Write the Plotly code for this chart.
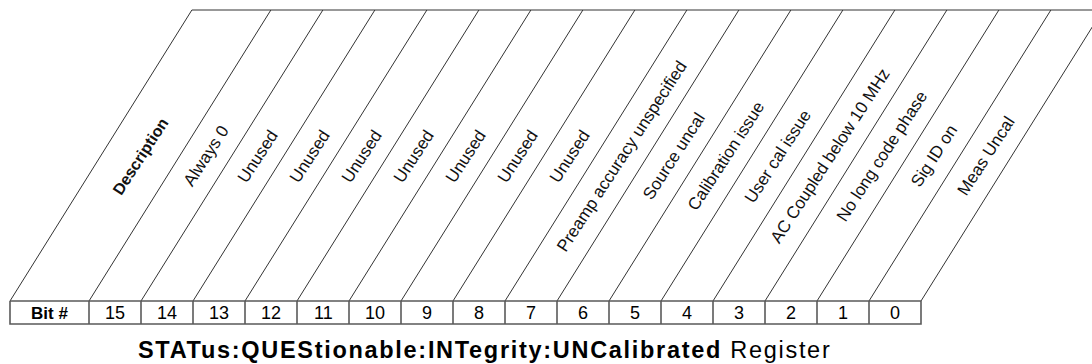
import plotly.graph_objects as go

# ---- data ----
header_bit = "Bit #"
header_desc = "Description"
bits = [15, 14, 13, 12, 11, 10, 9, 8, 7, 6, 5, 4, 3, 2, 1, 0]
descriptions = ["Always 0", "Unused", "Unused", "Unused", "Unused", "Unused",
                "Unused", "Unused", "Preamp accuracy unspecified", "Source uncal",
                "Calibration issue", "User cal issue", "AC Coupled below 10 MHz",
                "No long code phase", "Sig ID on", "Meas Uncal"]
title_bold = "STATus:QUEStionable:INTegrity:UNCalibrated"
title_plain = "Register"

# ---- geometry (pixel-like data units) ----
W, H = 1092, 364
x_left = 10.0
head_w = 79.0
col_w = 52.0
row_top, row_bot = 301.0, 324.0
top_y = 10.0
slope = 0.625  # dx per dy of slanted lines
label_y = 156.0
FONT = "Arial, 'Liberation Sans', sans-serif"

bounds = [x_left, x_left + head_w] + [x_left + head_w + col_w * (k + 1) for k in range(len(bits))]
x_right = bounds[-1]
shift_top = slope * (row_top - top_y)

fig = go.Figure()

# slanted lines + top line
sx, sy = [], []
for xb in bounds:
    sx += [xb, xb + shift_top, None]
    sy += [row_top, top_y, None]
sx += [bounds[0] + shift_top, W + 50, None]
sy += [top_y, top_y, None]
fig.add_trace(go.Scatter(x=sx, y=sy, mode="lines", line=dict(color="#333333", width=1),
                         hoverinfo="skip", showlegend=False))

# table borders
tx, ty = [], []
tx += [x_left, x_right, x_right, x_left, x_left, None]
ty += [row_top, row_top, row_bot, row_bot, row_top, None]
for xb in bounds[1:-1]:
    tx += [xb, xb, None]
    ty += [row_top, row_bot, None]
fig.add_trace(go.Scatter(x=tx, y=ty, mode="lines", line=dict(color="#5a5a5a", width=1.6),
                         hoverinfo="skip", showlegend=False))

row_mid = (row_top + row_bot) / 2
cells = [header_bit] + [str(b) for b in bits]
labels = [header_desc] + descriptions
for i, (c, lab) in enumerate(zip(cells, labels)):
    cx = (bounds[i] + bounds[i + 1]) / 2
    bold = (i == 0)
    fig.add_annotation(x=cx, y=row_mid + 0.5, text=(f"<b>{c}</b>" if bold else c),
                       showarrow=False, xanchor="center", yanchor="middle",
                       font=dict(family=FONT, size=18 if not bold else 17, color="#000"))
    lx = cx + slope * (row_top - label_y)
    fig.add_annotation(x=lx, y=label_y, text=(f"<b>{lab}</b>" if bold else lab),
                       showarrow=False, xanchor="center", yanchor="middle", textangle=-57,
                       font=dict(family=FONT, size=16 if bold else 17, color="#111"))

fig.add_annotation(x=484.5, y=349.5,
                   text=(f"<span style='letter-spacing:1.7px'><b>{title_bold}</b> {title_plain}</span>"),
                   showarrow=False, xanchor="center", yanchor="middle",
                   font=dict(family=FONT, size=23.5, color="#000"))

fig.update_layout(width=W, height=H, margin=dict(l=0, r=0, t=0, b=0),
                  paper_bgcolor="white", plot_bgcolor="white",
                  xaxis=dict(range=[0, W], visible=False, fixedrange=True),
                  yaxis=dict(range=[H, 0], visible=False, fixedrange=True))
fig.write_html("out.html", config={"displayModeBar": False},
               post_script="document.body.style.margin='0';document.body.style.overflow='hidden';")
